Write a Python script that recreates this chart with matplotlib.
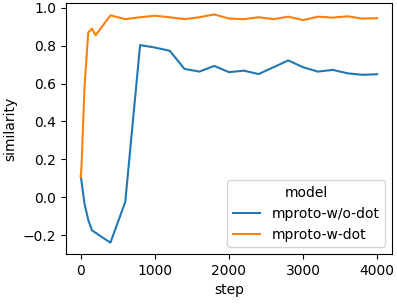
import matplotlib
matplotlib.use("Agg")
import matplotlib.pyplot as plt

steps_wo = [0, 50, 100, 150, 300, 400, 600, 800, 1000, 1200, 1400, 1600, 1800, 2000,
            2200, 2400, 2600, 2800, 3000, 3200, 3400, 3600, 3800, 4000]
sim_wo = [0.11, -0.035, -0.12, -0.175, -0.215, -0.24, -0.025, 0.803, 0.79, 0.773,
          0.677, 0.663, 0.693, 0.66, 0.668, 0.65, 0.686, 0.722, 0.686, 0.663,
          0.672, 0.654, 0.646, 0.649]

steps_w = [0, 10, 50, 100, 150, 200, 400, 600, 800, 1000, 1200, 1400, 1600, 1800, 2000,
           2200, 2400, 2600, 2800, 3000, 3200, 3400, 3600, 3800, 4000]
sim_w = [0.105, 0.17, 0.58, 0.87, 0.89, 0.855, 0.96, 0.94, 0.95, 0.958, 0.95, 0.94,
         0.95, 0.965, 0.943, 0.94, 0.95, 0.94, 0.953, 0.935, 0.953, 0.948, 0.955,
         0.943, 0.945]

labels = ["mproto-w/o-dot", "mproto-w-dot"]

fig = plt.figure(figsize=(3.97, 3.05), dpi=100)
ax = fig.add_axes([66/397, 51/305, 326/397, 251/305])
ax.plot(steps_wo, sim_wo, color="#1f77b4", lw=1.5, label=labels[0])
ax.plot(steps_w, sim_w, color="#ff7f0e", lw=1.5, label=labels[1])
ax.set_xlabel("step")
ax.set_ylabel("similarity")
ax.set_xticks([0, 1000, 2000, 3000, 4000])
ax.legend(title="model", loc="lower right")
fig.savefig("out.png", dpi=100)
